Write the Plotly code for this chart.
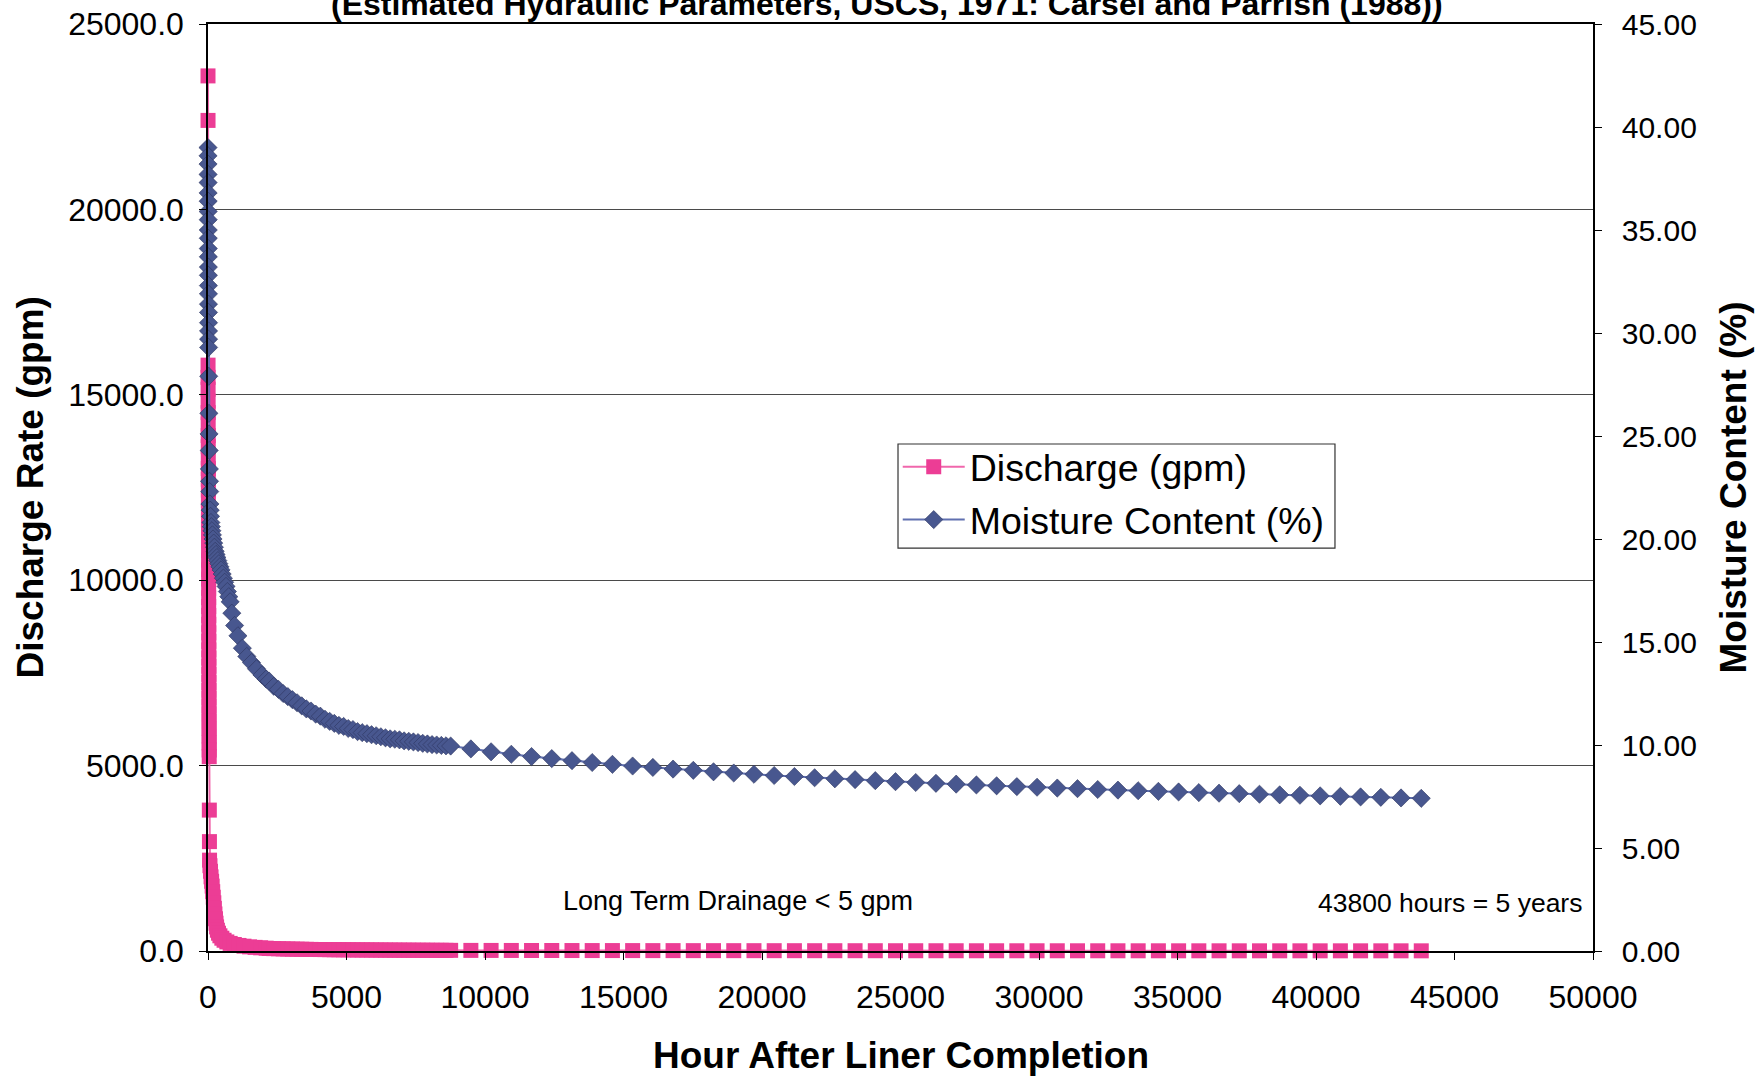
import plotly.graph_objs as go
from plotly.subplots import make_subplots

# hours after liner completion (shared tail: weekly to 1 yr, then monthly to 5 yrs)
hours_weekly = [2208, 2376, 2544, 2712, 2880, 3048, 3216, 3384, 3552, 3720, 3888, 4056, 4224,
                4392, 4560, 4728, 4896, 5064, 5232, 5400, 5568, 5736, 5904, 6072, 6240, 6408,
                6576, 6744, 6912, 7080, 7248, 7416, 7584, 7752, 7920, 8088, 8256, 8424, 8592]
hours_monthly = [8760, 9490, 10220, 10950, 11680, 12410, 13140, 13870, 14600, 15330, 16060,
                 16790, 17520, 18250, 18980, 19710, 20440, 21170, 21900, 22630, 23360, 24090,
                 24820, 25550, 26280, 27010, 27740, 28470, 29200, 29930, 30660, 31390, 32120,
                 32850, 33580, 34310, 35040, 35770, 36500, 37230, 37960, 38690, 39420, 40150,
                 40880, 41610, 42340, 43070, 43800]

# discharge (gpm)
hours_q_early = [0, 1, 2, 3, 4, 5, 6, 7, 8, 9, 10, 11, 12, 13, 14, 15, 16, 17, 18, 19, 20, 21,
                 22, 23, 24, 25, 26, 27, 28, 29, 30, 31, 32, 33, 34, 35, 36, 37, 38, 39, 40, 41,
                 42, 43, 44, 48, 52, 56, 70, 90, 110, 130, 150, 170, 190, 210, 230, 250, 270,
                 290, 310, 340, 380, 430, 500, 580, 680, 800, 950, 1120, 1300, 1500, 1700,
                 1900, 2100]
q_early = [23600, 22400, 15800, 15470, 15150, 14830, 14520, 14210, 13900, 13600, 13300, 13010,
           12720, 12430, 12150, 11870, 11600, 11330, 11060, 10800, 10540, 10280, 10030, 9780,
           9530, 9290, 9050, 8810, 8580, 8350, 8120, 7900, 7680, 7460, 7240, 7030, 6820, 6610,
           6400, 6200, 6000, 5800, 5610, 5420, 5240, 3800, 2950, 2450, 2300, 2150, 2000, 1880,
           1750, 1600, 1450, 1300, 1150, 1000, 870, 750, 650, 560, 480, 410, 345, 290, 245,
           205, 175, 150, 130, 112, 98, 86, 76]
q_weekly = [68, 64, 60, 57, 54, 51, 49, 47, 45, 43, 41, 39.5, 38, 36.5, 35, 34, 33, 32, 31, 30,
            29, 28.2, 27.4, 26.6, 25.8, 25.1, 24.4, 23.7, 23.0, 22.4, 21.8, 21.2, 20.6, 20.1,
            19.6, 19.1, 18.6, 18.2, 17.8]
q_monthly = [17.4, 16.3, 15.3, 14.5, 13.8, 13.1, 12.5, 12.0, 11.5, 11.0, 10.6, 10.2, 9.8, 9.5,
             9.2, 8.9, 8.6, 8.3, 8.1, 7.9, 7.7, 7.5, 7.3, 7.1, 6.9, 6.8, 6.6, 6.5, 6.3, 6.2,
             6.1, 6.0, 5.9, 5.8, 5.7, 5.6, 5.5, 5.4, 5.3, 5.2, 5.1, 5.05, 5.0, 4.95, 4.9, 4.85,
             4.8, 4.75, 4.7]

# moisture content (%)
hours_m_early = [0, 1, 2, 3, 4, 5, 6, 7, 8, 9, 10, 11, 12, 13, 14, 15, 16, 17, 18, 19, 20, 21,
                 22, 26, 32, 38, 44, 50, 56, 62, 70, 80, 92, 106, 122, 140, 160, 182, 206, 232,
                 260, 290, 322, 356, 392, 430, 470, 512, 556, 602, 650, 700, 750, 800, 860, 960,
                 1080, 1240, 1400, 1570, 1750, 1950, 2100]
m_early = [39.0, 38.6, 38.2, 37.7, 37.3, 36.8, 36.4, 35.9, 35.5, 35.0, 34.6, 34.1, 33.7, 33.2,
           32.8, 32.3, 31.9, 31.4, 31.0, 30.5, 30.1, 29.7, 29.3, 27.9, 26.1, 25.1, 24.3, 23.4,
           22.8, 22.3, 21.7, 21.4, 21.1, 20.8, 20.6, 20.4, 20.2, 20.0, 19.8, 19.6, 19.4, 19.25,
           19.1, 18.95, 18.8, 18.65, 18.5, 18.3, 18.1, 17.9, 17.7, 17.45, 17.2, 16.95, 16.4,
           15.8, 15.3, 14.7, 14.3, 14.0, 13.7, 13.4, 13.2]
m_weekly = [13.1, 12.85, 12.7, 12.5, 12.35, 12.2, 12.05, 11.9, 11.75, 11.65, 11.5, 11.4, 11.25,
            11.15, 11.05, 10.95, 10.9, 10.8, 10.75, 10.65, 10.6, 10.55, 10.5, 10.45, 10.4,
            10.35, 10.3, 10.28, 10.25, 10.2, 10.18, 10.15, 10.12, 10.08, 10.05, 10.02, 10.0,
            9.98, 9.96]
m_monthly = [9.95, 9.81, 9.67, 9.55, 9.44, 9.34, 9.24, 9.15, 9.06, 8.98, 8.91, 8.83, 8.77, 8.70,
             8.64, 8.58, 8.52, 8.47, 8.41, 8.36, 8.32, 8.27, 8.22, 8.18, 8.14, 8.10, 8.06, 8.02,
             7.98, 7.95, 7.91, 7.88, 7.84, 7.81, 7.78, 7.75, 7.72, 7.69, 7.66, 7.64, 7.61, 7.58,
             7.56, 7.53, 7.51, 7.48, 7.46, 7.43, 7.41]

title_text = '(Estimated Hydraulic Parameters, USCS, 1971: Carsel and Parrish (1988))'

FONT = 'Arial, Liberation Sans, sans-serif'
PINK = '#EC3D95'
BLUE = '#48578F'

fig = make_subplots(specs=[[{"secondary_y": True}]])

discharge = go.Scatter(x=hours_q_early + hours_weekly + hours_monthly,
                       y=q_early + q_weekly + q_monthly,
                       mode='lines+markers', name='Discharge (gpm)', legendgroup='q',
                       cliponaxis=False,
                       line=dict(color='#F067AC', width=2),
                       marker=dict(color=PINK, symbol='square', size=15))
fig.add_trace(discharge, secondary_y=False)

moisture = go.Scatter(x=hours_m_early + hours_weekly + hours_monthly,
                      y=m_early + m_weekly + m_monthly,
                      mode='lines+markers', name='Moisture Content (%)', legendgroup='m',
                      cliponaxis=False,
                      line=dict(color='#6070B0', width=2),
                      marker=dict(color=BLUE, symbol='diamond', size=14,
                                  line=dict(color='#2E3660', width=0.6)))
fig.add_trace(moisture, secondary_y=True)

fig.update_layout(
    width=1764, height=1078,
    margin=dict(l=208, r=171, t=24, b=127),
    paper_bgcolor='white', plot_bgcolor='white',
    font=dict(family=FONT, color='black'),
    showlegend=True,
    legend=dict(x=0.498, y=0.5556, xanchor='left', yanchor='top',
                bgcolor='rgba(0,0,0,0)', borderwidth=0,
                font=dict(size=37.5, family=FONT), tracegroupgap=1, itemwidth=62),
)

# legend frame (drawn as a box so its padding matches the original)
fig.add_shape(type='rect', xref='paper', yref='paper',
              x0=0.4982, x1=0.8137, y0=0.4347, y1=0.5469,
              line=dict(color='#333', width=1.2), fillcolor='white', layer='above')

fig.update_xaxes(domain=[0, 1], range=[0, 50000], dtick=5000, tick0=0, tickformat='d',
                 showgrid=False, zeroline=False, automargin=False,
                 showline=True, linecolor='black', linewidth=1.5, mirror=True,
                 ticks='outside', ticklen=7, tickcolor='black',
                 tickfont=dict(size=32, family=FONT), ticklabelstandoff=10,
                 ticklabeloverflow='allow')
fig.update_yaxes(range=[0, 25000], dtick=5000, tickformat='.1f',
                 showgrid=True, gridcolor='#4a4a4a', gridwidth=1.1, zeroline=False,
                 showline=True, linecolor='black', linewidth=1.5, automargin=False,
                 ticks='outside', ticklen=7, tickcolor='black',
                 tickfont=dict(size=32, family=FONT), ticklabelstandoff=9,
                 ticklabeloverflow='allow', secondary_y=False)
fig.update_yaxes(range=[0, 45], dtick=5, tickformat='.2f',
                 showgrid=False, zeroline=False, automargin=False,
                 showline=True, linecolor='black', linewidth=1.5,
                 ticks='outside', ticklen=7, tickcolor='black',
                 tickfont=dict(size=30, family=FONT), ticklabelstandoff=14,
                 ticklabeloverflow='allow', secondary_y=True)

# titles and notes
fig.add_annotation(text='<b>' + title_text + '</b>', xref='paper', yref='paper',
                   x=0.49, y=1, xanchor='center', yanchor='bottom', showarrow=False,
                   font=dict(size=32, family=FONT))
fig.add_annotation(text='<b>Discharge Rate (gpm)</b>', xref='paper', yref='paper',
                   x=0, y=0.5, xshift=-178, xanchor='center', yanchor='middle',
                   textangle=-90, showarrow=False, font=dict(size=37, family=FONT))
fig.add_annotation(text='<b>Moisture Content (%)</b>', xref='paper', yref='paper',
                   x=1, y=0.5, xshift=140, xanchor='center', yanchor='middle',
                   textangle=-90, showarrow=False, font=dict(size=37, family=FONT))
fig.add_annotation(text='<b>Hour After Liner Completion</b>', xref='paper', yref='paper',
                   x=0.5, y=0, yshift=-104, xanchor='center', yanchor='middle',
                   showarrow=False, font=dict(size=37, family=FONT))
fig.add_annotation(text='Long Term Drainage < 5 gpm', xref='paper', yref='paper',
                   x=0.3827, y=0.0539, xanchor='center', yanchor='middle',
                   showarrow=False, font=dict(size=27, family=FONT))
fig.add_annotation(text='43800 hours = 5 years', xref='paper', yref='paper',
                   x=0.9935, y=0.0518, xanchor='right', yanchor='middle',
                   showarrow=False, font=dict(size=26.5, family=FONT))

# drop the default 8px page margin so the figure sits at the window's corner
fig.write_html("out.html", config={'displayModeBar': False},
               post_script="document.body.style.margin='0';")
